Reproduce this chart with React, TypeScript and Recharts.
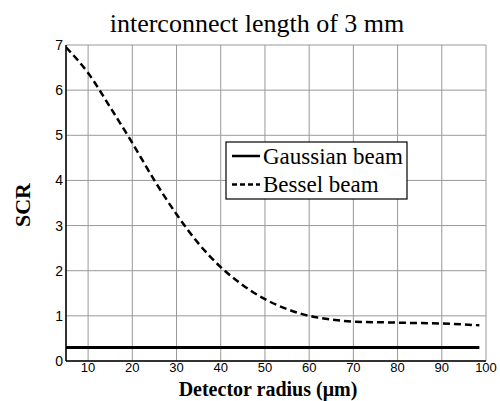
import { LineChart, Line, XAxis, YAxis, CartesianGrid } from 'recharts'

// detector radius (um)
const radius = [5, 10, 15, 20, 25, 30, 35, 40, 45, 50, 55, 60, 65, 70, 75, 80, 85, 90, 95, 98.5]
const besselScr = [6.95, 6.38, 5.62, 4.83, 4.0, 3.25, 2.6, 2.08, 1.68, 1.37, 1.15, 1.0, 0.92, 0.87, 0.86, 0.85, 0.84, 0.83, 0.81, 0.79]
const gaussianScr = [0.3, 0.3, 0.3, 0.3, 0.3, 0.3, 0.3, 0.3, 0.3, 0.3, 0.3, 0.3, 0.3, 0.3, 0.3, 0.3, 0.3, 0.3, 0.3, 0.3]

const xTicks = [10, 20, 30, 40, 50, 60, 70, 80, 90, 100]
const yTicks = [0, 1, 2, 3, 4, 5, 6, 7]

const data = radius.map((r, i) => ({ r, gauss: gaussianScr[i], bessel: besselScr[i] }))

const SERIF = '"Times New Roman", "Liberation Serif", serif'
const SANS = 'Arial, "Liberation Sans", sans-serif'

export default function App() {
  return (
    <div style={{ position: 'absolute', left: 0, top: 0, width: 500, height: 401, background: '#fff' }}>
      <LineChart
        width={500}
        height={401}
        data={data}
        margin={{ top: 45, right: 14, bottom: 0, left: 0 }}
      >
        <CartesianGrid stroke="#999" strokeWidth={1} />
        <XAxis
          dataKey="r"
          type="number"
          domain={[5, 100]}
          ticks={xTicks}
          allowDataOverflow
          height={40}
          tickLine={false}
          tickSize={1}
          tickMargin={1}
          axisLine={{ stroke: '#000', strokeWidth: 1.5 }}
          tick={{ fill: '#000', fontSize: 13, fontFamily: SANS }}
        />
        <XAxis
          xAxisId="top"
          orientation="top"
          dataKey="r"
          type="number"
          domain={[5, 100]}
          height={0}
          tick={false}
          tickLine={false}
          axisLine={{ stroke: '#000', strokeWidth: 1.5 }}
        />
        <YAxis
          type="number"
          domain={[0, 7]}
          ticks={yTicks}
          width={66}
          tickLine={false}
          tickSize={1}
          tickMargin={2}
          axisLine={{ stroke: '#000', strokeWidth: 1.5 }}
          tick={{ fill: '#000', fontSize: 14, fontFamily: SANS }}
        />
        <YAxis
          yAxisId="right"
          orientation="right"
          type="number"
          domain={[0, 7]}
          width={0}
          tick={false}
          tickLine={false}
          axisLine={{ stroke: '#000', strokeWidth: 1.5 }}
        />
        <Line
          dataKey="gauss"
          type="linear"
          stroke="#000"
          strokeWidth={3}
          dot={false}
          isAnimationActive={false}
        />
        <Line
          dataKey="bessel"
          type="monotone"
          stroke="#000"
          strokeWidth={2.5}
          strokeDasharray="7 4"
          dot={false}
          isAnimationActive={false}
        />
      </LineChart>
      <svg
        width={500}
        height={401}
        style={{ position: 'absolute', left: 0, top: 0, pointerEvents: 'none' }}
      >
        <text x={257} y={32} textAnchor="middle" fontFamily={SERIF} fontSize={26} fill="#000">
          interconnect length of 3 mm
        </text>
        <text x={268} y={396} textAnchor="middle" fontFamily={SERIF} fontSize={20} fontWeight="bold" fill="#000">
          Detector radius (μm)
        </text>
        <text
          transform="translate(30,205) rotate(-90)"
          textAnchor="middle"
          fontFamily={SERIF}
          fontSize={22}
          fontWeight="bold"
          fill="#000"
        >
          SCR
        </text>
        {/* legend */}
        <rect x={226} y={142} width={181} height={57} fill="#fff" stroke="#000" strokeWidth={1.2} />
        <line x1={232} y1={156} x2={260} y2={156} stroke="#000" strokeWidth={2.5} />
        <line x1={232} y1={184.5} x2={260} y2={184.5} stroke="#000" strokeWidth={2.5} strokeDasharray="5 3" />
        <text x={263} y={163.5} fontFamily={SERIF} fontSize={23} fill="#000">
          Gaussian beam
        </text>
        <text x={263} y={192} fontFamily={SERIF} fontSize={23} fill="#000">
          Bessel beam
        </text>
      </svg>
    </div>
  )
}
